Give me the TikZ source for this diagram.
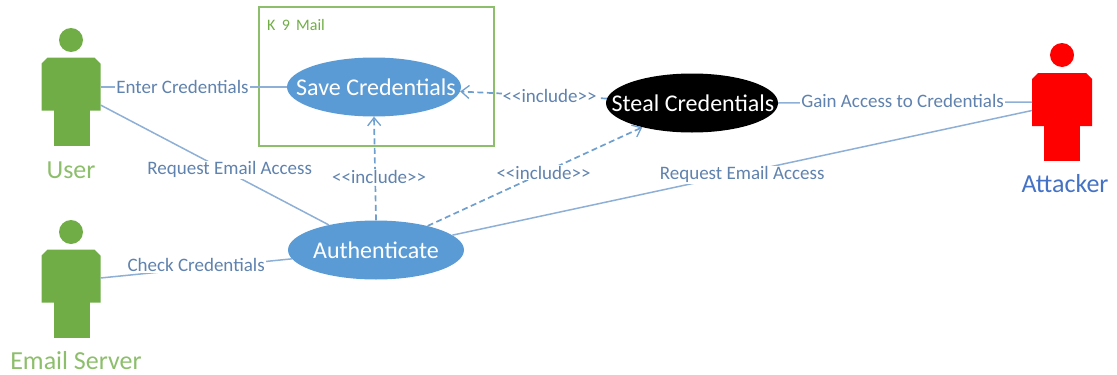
\documentclass[tikz,border=0pt]{standalone}
\usepackage{fontspec}
\setmainfont{Carlito}
\usetikzlibrary{shapes.geometric,arrows.meta}
\definecolor{grn}{HTML}{70AD47}
\definecolor{lgrn}{HTML}{8DBE6C}
\definecolor{ell}{HTML}{5B9BD5}
\definecolor{lnk}{HTML}{8FB0D6}
\definecolor{dsh}{HTML}{6F9FCF}
\definecolor{lab}{HTML}{5F82AE}
\definecolor{blu}{HTML}{4472C4}
\newcommand{\chamfbody}[2]{\fill[#2] ([yshift=-6pt]#1.north west) -- ([xshift=6pt]#1.north west) -- ([xshift=-6pt]#1.north east) -- ([yshift=-6pt]#1.north east) -- (#1.south east) -- (#1.south west) -- cycle;}
\tikzset{
  uc/.style={ellipse,draw=none,fill=ell,text=white,minimum width=#1,minimum height=59pt,inner xsep=-30pt,inner ysep=-10pt,font=\fontsize{24}{26}\selectfont},
  body/.style={rectangle,draw=none,minimum width=59pt,minimum height=53pt,inner sep=0pt,outer sep=0pt},
  legs/.style={rectangle,fill=#1,minimum width=36pt,minimum height=36pt,inner sep=0pt,outer sep=0pt},
  head/.style={circle,fill=#1,minimum size=24pt,inner sep=0pt},
  assoc/.style={draw=lnk,line width=1.5pt},
  incl/.style={draw=dsh,line width=1.7pt,dash pattern=on 6pt off 3.5pt},
  inclarrow/.style={incl,-{Straight Barb[length=8pt,width=13pt,line width=1.3pt]}},
  lbl/.style={fill=white,text=lab,inner sep=1pt,font=\fontsize{19}{21}\selectfont},
  uctext/.style={text=white,inner sep=0pt,font=\fontsize{24}{26}\selectfont},
  actorname/.style={font=\fontsize{26}{28}\selectfont,inner sep=0pt}
}
\begin{document}
\begin{tikzpicture}[x=1pt,y=-1pt]
\useasboundingbox (0,0) rectangle (1117,375);
% system box
\node[draw=lgrn,line width=1.4pt,minimum width=235pt,minimum height=139pt,inner sep=0pt] (box) at (376.5,76.5) {};
\node[text=grn,font=\fontsize{16}{18}\selectfont,anchor=west,inner sep=0pt] (boxt) at (267,25) {K\, 9\, Mail};
% actors
\node[head=grn] (uh) at (71,40) {};
\node[body] (ub) at (71,84) {};
\chamfbody{ub}{grn}
\node[legs=grn] (ul) at (71.5,128) {};
\node[actorname,text=lgrn] (un) at (71,170) {User};
\node[head=grn] (sh) at (71,232) {};
\node[body] (sb) at (71,276) {};
\chamfbody{sb}{grn}
\node[legs=grn] (sl) at (71.5,320) {};
\node[actorname,text=lgrn] (sn) at (76,361) {Email Server};
\node[head=red] (ah) at (1062,55) {};
\node[body,minimum width=60pt] (ab) at (1062,99.5) {};
\chamfbody{ab}{red}
\node[legs=red] (al) at (1062,143) {};
\node[actorname,text=blu] (an) at (1065,184) {Attacker};
% use case shapes
\node[uc=174pt] (save) at (374,87) {};
\node[uc=172pt,fill=black] (steal) at (692,103) {};
\node[uc=176pt] (auth) at (376,250) {};
% associations
\draw[assoc] ([yshift=-3pt]ub.east) -- node[lbl,pos=0.44] (l1) {Enter Credentials} (save.west);
\draw[assoc] ([yshift=-21pt]ub.east) -- node[lbl,pos=0.566,yshift=3pt] (l2) {Request Email Access} (auth.152);
\draw[assoc] ([yshift=-2pt]sb.east) -- node[lbl,pos=0.5,yshift=3pt] (l3) {Check Credentials} (auth.186);
\draw[assoc] (auth.11) -- node[lbl,pos=0.5,yshift=-2pt] (l4) {Request Email Access} ([yshift=-11pt]ab.west);
\draw[assoc] (steal.east) -- node[lbl,pos=0.49,yshift=2pt] (l5) {Gain Access to Credentials} ([yshift=-2.5pt]ab.west);
% includes
\draw[inclarrow] (auth.north) -- node[lbl,pos=0.42,xshift=4pt] (l6) {<{}<include>{}>} (save.south);
\draw[inclarrow] (steal.177) -- node[lbl,pos=0.39] (l7) {<{}<include>{}>} (save.357);
\draw[inclarrow] (auth.25) -- node[lbl,pos=0.54] (l8) {<{}<include>{}>} (steal.206);
% use case captions
\node[uctext,xshift=2pt] (savet) at (save.center) {Save Credentials};
\node[uctext,xshift=1pt] (stealt) at (steal.center) {Steal Credentials};
\node[uctext] (autht) at (auth.center) {Authenticate};
\end{tikzpicture}
\end{document}
